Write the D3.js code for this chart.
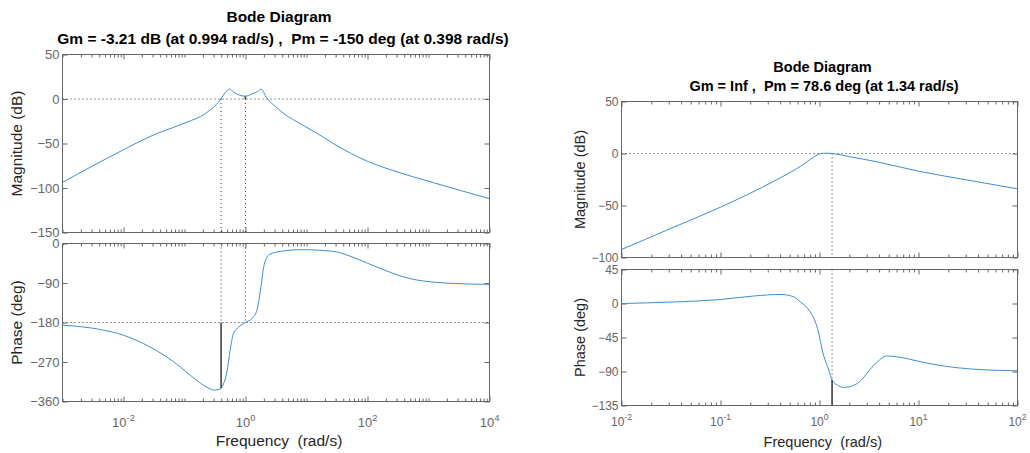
<!DOCTYPE html>
<html>
<head>
<meta charset="utf-8">
<script src="https://cdn.jsdelivr.net/npm/d3@7"></script>
<style>
  body { margin: 0; background: #fff; }
  svg { display: block; font-family: "Liberation Sans", Arial, Helvetica, sans-serif; }
</style>
</head>
<body>
<svg id="chart" width="1030" height="453"></svg>
<script>
// Values (frequency in rad/s).

// left system
const leftMagFreq = [0.001, 0.00316, 0.01, 0.0275, 0.085, 0.13, 0.182, 0.263, 0.329, 0.385, 0.437, 0.495, 0.547, 0.63, 0.724, 0.994, 1.274, 1.58, 1.79, 2.24, 2.88, 3.5, 4.17, 6.17, 14.8, 27.5, 100, 347, 1202, 10000];
const leftMagDb = [-93.6, -75, -57, -42, -29, -24, -19.8, -12.3, -6.5, -1.1, 4.5, 9.3, 11.2, 8, 5.6, 3.21, 5.6, 8.5, 11.2, 0.8, -6.7, -11.5, -16, -23.5, -38.4, -50, -70, -83, -94, -112];

const leftPhaseFreq = [0.001, 0.00417, 0.01, 0.0275, 0.085, 0.124, 0.182, 0.251, 0.2985, 0.355, 0.398, 0.4355, 0.4955, 0.561, 0.635, 0.767, 0.994, 1.274, 1.556, 1.679, 1.807, 1.95, 2.18, 2.54, 4.17, 7.94, 27.5, 50.1, 100, 186, 347, 631, 1202, 3162, 10000];
const leftPhaseDeg = [-186, -196, -209, -236, -281, -300, -318, -330, -334, -333, -330, -320, -293, -243, -205, -191, -180, -171, -150, -125, -95, -60, -35, -24, -17, -14, -18, -28, -45, -60, -74, -83, -88, -91.5, -93];

const leftGm = -3.21, leftWcg = 0.994, leftPm = -150, leftWcp = 0.398;

// right system
const rightMagFreq = [0.01, 0.0316, 0.1, 0.347, 0.646, 0.871, 1.023, 1.175, 1.34, 2.0, 3.55, 10, 36.3, 100];
const rightMagDb = [-92.3, -72, -51.6, -26.6, -12.2, -3.6, -0.2, 0.3, 0, -3, -7.4, -17, -26.6, -34];

const rightPhaseFreq = [0.01, 0.0339, 0.1, 0.219, 0.407, 0.55, 0.643, 0.759, 0.955, 1.096, 1.24, 1.34, 1.567, 1.78, 2.4, 3.55, 4.79, 6.0, 7.69, 10, 15, 24.5, 50, 100];
const rightPhaseDeg = [0, 2, 5.3, 10, 12, 8.8, 2, -6.6, -33, -68, -88, -101.4, -109, -111, -106, -81.7, -69.5, -70.5, -73, -76.5, -81, -85, -88, -89];

const rightGm = Infinity, rightPm = 78.6, rightWcp = 1.34;

// axis ticks
const leftMagTicks = [50, 0, -50, -100, -150];
const leftPhaseTicks = [0, -90, -180, -270, -360];
const leftFreqLabels = [-2, 0, 2, 4];
const rightMagTicks = [50, 0, -50, -100];
const rightPhaseTicks = [45, 0, -45, -90, -135];
const rightFreqLabels = [-2, -1, 0, 1, 2];

const svg = d3.select("#chart");
const boxColor = "#666";
const curveColor = "#3b8ed3";

function zip(a, b) {
	return a.map((v, i) => [v, b[i]]);
}

// log x ticks: every 1..9 multiple, the labelled decades get the long tick
function freqTicks(domain, labelled) {
	const major = [], minor = [];
	const d0 = Math.floor(Math.log10(domain[0]));
	const d1 = Math.ceil(Math.log10(domain[1]));
	for (let d = d0; d <= d1; d++) {
		for (let k = 1; k <= 9; k++) {
			const v = k * Math.pow(10, d);
			if (v < domain[0] * 0.999 || v > domain[1] * 1.001) continue;
			if (k === 1 && labelled.includes(d)) major.push(v);
			else minor.push(v);
		}
	}
	return { major, minor };
}

let clipId = 0;

function drawPanel(p) {
	const g = svg.append("g");
	const x = d3.scaleLog().domain(p.xDomain).range([p.left, p.right]);
	const y = d3.scaleLinear().domain(p.yDomain).range([p.bottom, p.top]);

	const id = "clip" + clipId++;
	svg.append("clipPath").attr("id", id)
		.append("rect")
		.attr("x", p.left).attr("y", p.top)
		.attr("width", p.right - p.left).attr("height", p.bottom - p.top);

	// x ticks, inside, top and bottom
	const ft = freqTicks(p.xDomain, p.xLabels);
	const tickGroups = [
		[d3.axisTop(x).tickValues(ft.major).tickSize(-5), p.top],
		[d3.axisTop(x).tickValues(ft.minor).tickSize(-3), p.top],
		[d3.axisBottom(x).tickValues(ft.major).tickSize(-5), p.bottom],
		[d3.axisBottom(x).tickValues(ft.minor).tickSize(-3), p.bottom],
	];
	tickGroups.forEach(([ax, yy]) => {
		g.append("g")
			.attr("transform", `translate(0,${yy})`)
			.attr("color", boxColor)
			.call(ax.tickFormat(""))
			.call((a) => a.select(".domain").remove());
	});

	// y ticks, left with labels and right without
	g.append("g")
		.attr("transform", `translate(${p.left},0)`)
		.attr("color", boxColor)
		.call(d3.axisLeft(y).tickValues(p.yTicks).tickSize(-5).tickPadding(3))
		.call((a) => a.select(".domain").remove())
		.call((a) => a.selectAll("text")
			.attr("font-size", p.tickFont)
			.attr("fill", boxColor));
	g.append("g")
		.attr("transform", `translate(${p.right},0)`)
		.attr("color", boxColor)
		.call(d3.axisRight(y).tickValues(p.yTicks).tickSize(-5).tickFormat(""))
		.call((a) => a.select(".domain").remove());
	g.selectAll("g").attr("font-family", null);

	// box
	g.append("rect")
		.attr("x", p.left).attr("y", p.top)
		.attr("width", p.right - p.left).attr("height", p.bottom - p.top)
		.attr("fill", "none")
		.attr("stroke", boxColor)
		.attr("stroke-width", 1);

	// frequency labels 10^n
	if (p.showFreqLabels) {
		p.xLabels.forEach((d) => {
			const t = g.append("text")
				.attr("x", x(Math.pow(10, d)))
				.attr("y", p.bottom + p.freqLabelDy)
				.attr("text-anchor", "middle")
				.attr("font-size", p.tickFont)
				.attr("fill", boxColor);
			t.append("tspan").text("10");
			t.append("tspan")
				.attr("font-size", p.tickFont * 0.72)
				.attr("dy", -p.tickFont * 0.45)
				.text(String(d));
		});
	}

	// margin guide lines
	const guides = g.append("g").attr("clip-path", `url(#${id})`);
	p.dotted.forEach((l) => {
		guides.append("line")
			.attr("x1", l[0] === null ? p.left : x(l[0]))
			.attr("x2", l[0] === null ? p.right : x(l[0]))
			.attr("y1", l[0] === null ? y(l[1]) : (l[1] === null ? p.top : y(l[1])))
			.attr("y2", l[0] === null ? y(l[1]) : (l[2] === null ? p.bottom : y(l[2])))
			.attr("stroke", "#333")
			.attr("stroke-width", 1)
			.attr("stroke-dasharray", "1,3");
	});

	// curve
	const line = d3.line()
		.x((d) => x(d[0]))
		.y((d) => y(d[1]))
		.curve(d3.curveMonotoneX);
	guides.append("path")
		.datum(p.data)
		.attr("d", line)
		.attr("fill", "none")
		.attr("stroke", curveColor)
		.attr("stroke-width", 1);

	// solid margin markers
	p.solid.forEach((l) => {
		guides.append("line")
			.attr("x1", x(l[0])).attr("x2", x(l[0]))
			.attr("y1", y(l[1])).attr("y2", y(l[2]))
			.attr("stroke", "#444")
			.attr("stroke-width", 1.6);
	});

	// y label
	g.append("text")
		.attr("transform", `translate(${p.yLabelX},${(p.top + p.bottom) / 2}) rotate(-90)`)
		.attr("text-anchor", "middle")
		.attr("font-size", p.labelFont)
		.attr("fill", "#262626")
		.text(p.yLabel);
}

function drawTitle(cx1, cx2, y1, y2, size, line2) {
	svg.append("text")
		.attr("x", cx1).attr("y", y1)
		.attr("text-anchor", "middle")
		.attr("font-weight", "bold")
		.attr("font-size", size)
		.text("Bode Diagram");
	svg.append("text")
		.attr("x", cx2).attr("y", y2)
		.attr("text-anchor", "middle")
		.attr("font-weight", "bold")
		.attr("font-size", size)
		.style("white-space", "pre")
		.text(line2);
}

function drawFreqLabel(cx, y, size) {
	svg.append("text")
		.attr("x", cx).attr("y", y)
		.attr("text-anchor", "middle")
		.attr("font-size", size)
		.attr("fill", "#262626")
		.style("white-space", "pre")
		.text("Frequency  (rad/s)");
}

// ---- left figure ----
const L = { left: 62.5, right: 489.5, xDomain: [1e-3, 1e4], xLabels: leftFreqLabels, tickFont: 13, labelFont: 15.5, freqLabelDy: 25.5, yLabelX: 22 };

drawPanel(Object.assign({}, L, {
	top: 54.5, bottom: 232.5,
	yDomain: [-150, 50], yTicks: leftMagTicks,
	data: zip(leftMagFreq, leftMagDb),
	yLabel: "Magnitude (dB)",
	showFreqLabels: false,
	dotted: [[null, 0], [leftWcg, 0, null], [leftWcp, 0, null]],
	solid: [[leftWcg, 0, -leftGm]],
}));

drawPanel(Object.assign({}, L, {
	top: 243.5, bottom: 401.5,
	yDomain: [-360, 0], yTicks: leftPhaseTicks,
	data: zip(leftPhaseFreq, leftPhaseDeg),
	yLabel: "Phase (deg)",
	showFreqLabels: true,
	dotted: [[null, -180], [leftWcg, null, -180], [leftWcp, null, -180]],
	solid: [[leftWcp, -180, -180 + leftPm]],
}));

drawTitle(279, 283, 21.7, 44.3, 15.5,
	`Gm = ${leftGm} dB (at ${leftWcg} rad/s) ,  Pm = ${leftPm} deg (at ${leftWcp} rad/s)`);
drawFreqLabel(279, 446, 15.5);

// ---- right figure ----
const R = { left: 621.5, right: 1017.5, xDomain: [1e-2, 1e2], xLabels: rightFreqLabels, tickFont: 12, labelFont: 14.5, freqLabelDy: 20, yLabelX: 585 };

drawPanel(Object.assign({}, R, {
	top: 101.5, bottom: 257.5,
	yDomain: [-100, 50], yTicks: rightMagTicks,
	data: zip(rightMagFreq, rightMagDb),
	yLabel: "Magnitude (dB)",
	showFreqLabels: false,
	dotted: [[null, 0], [rightWcp, 0, null]],
	solid: [],
}));

drawPanel(Object.assign({}, R, {
	top: 269.5, bottom: 405.5,
	yDomain: [-135, 45], yTicks: rightPhaseTicks,
	data: zip(rightPhaseFreq, rightPhaseDeg),
	yLabel: "Phase (deg)",
	showFreqLabels: true,
	dotted: [[rightWcp, null, -180]],
	solid: [[rightWcp, -180, -180 + rightPm]],
}));

drawTitle(822.5, 824, 71.7, 90.7, 14.5,
	`Gm = ${rightGm === Infinity ? "Inf" : rightGm} ,  Pm = ${rightPm} deg (at ${rightWcp} rad/s)`);
drawFreqLabel(822.8, 446.5, 14.5);
</script>
</body>
</html>
